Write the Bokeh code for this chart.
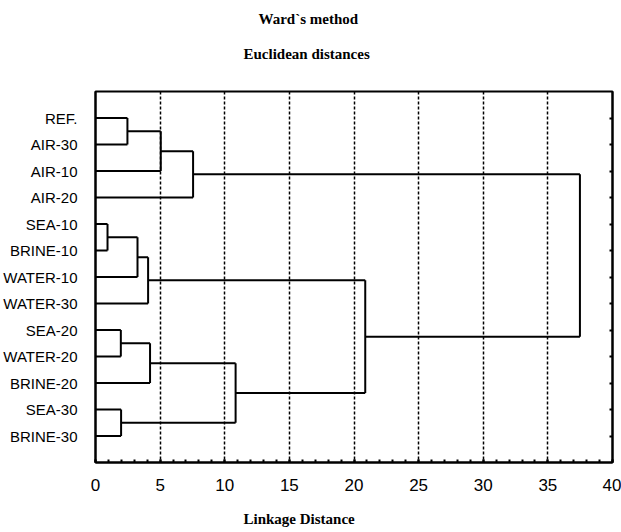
from bokeh.plotting import figure
from bokeh.models import ColumnDataSource, LinearAxis, FixedTicker, Title, Range1d
from bokeh.embed import file_html
from bokeh.resources import INLINE

leaves = ["REF.", "AIR-30", "AIR-10", "AIR-20", "SEA-10", "BRINE-10", "WATER-10",
          "WATER-30", "SEA-20", "WATER-20", "BRINE-20", "SEA-30", "BRINE-30"]
# merges: node indices (leaves 0..12, merged clusters 13..)
merge_a = [0, 13, 14, 4, 16, 17, 8, 19, 11, 20, 18, 15]
merge_b = [1, 2, 3, 5, 6, 7, 9, 10, 12, 21, 22, 23]
merge_h = [2.47, 5.05, 7.55, 0.93, 3.25, 4.07, 1.96, 4.22, 1.98, 10.84, 20.87, 37.48]
x_ticks = [0, 5, 10, 15, 20, 25, 30, 35, 40]

n = len(leaves)
pos = [float(i + 1) for i in range(n)]
hgt = [0.0] * n
x0, y0, x1, y1 = [], [], [], []
for a, b, h in zip(merge_a, merge_b, merge_h):
    ya, yb = pos[a], pos[b]
    x0 += [hgt[a], hgt[b], h]
    y0 += [ya, yb, ya]
    x1 += [h, h, h]
    y1 += [ya, yb, yb]
    pos.append((ya + yb) / 2.0)
    hgt.append(h)

src = ColumnDataSource(dict(x0=x0, y0=y0, x1=x1, y1=y1))

p = figure(width=621, height=532, x_range=Range1d(0, 40), y_range=Range1d(14, 0),
           output_backend="svg", toolbar_location=None, title="Ward`s method",
           min_border_left=94, min_border_right=9, min_border_top=91, min_border_bottom=70)
p.background_fill_color = "white"
p.border_fill_color = "white"
p.outline_line_color = "black"
p.outline_line_width = 2
p.outline_line_alpha = 1.0

serif = "Liberation Serif"
sans = "Liberation Sans"

# x axis (configure before adding spacer axes)
xa = p.xaxis[0]
xa.ticker = FixedTicker(ticks=x_ticks, minor_ticks=list(range(0, 41)))
xa.axis_line_color = "black"
xa.axis_line_width = 2
xa.major_tick_in = 3
xa.major_tick_out = 0
xa.minor_tick_in = 3
xa.minor_tick_out = 0
xa.major_tick_line_width = 2
xa.minor_tick_line_width = 2
xa.major_label_standoff = 16
xa.major_label_text_font = sans
xa.major_label_text_font_size = "17px"
xa.major_label_text_color = "black"

# y axis (leaf labels)
ya_ = p.yaxis[0]
ya_.ticker = FixedTicker(ticks=[i + 1 for i in range(n)])
ya_.major_label_overrides = {i + 1: name for i, name in enumerate(leaves)}
ya_.major_tick_line_color = None
ya_.minor_tick_line_color = None
ya_.axis_line_color = "black"
ya_.axis_line_width = 2
ya_.major_label_standoff = 12
ya_.major_label_text_font = sans
ya_.major_label_text_font_size = "15px"
ya_.major_label_text_color = "black"

p.xgrid.ticker = FixedTicker(ticks=x_ticks)
p.xgrid.grid_line_color = "black"
p.xgrid.grid_line_dash = "3 2"
p.xgrid.grid_line_width = 1.5
p.ygrid.grid_line_color = None


def spacer(size):
    # invisible axis used only to reserve vertical space
    ax = LinearAxis(ticker=FixedTicker(ticks=[20]))
    ax.major_label_overrides = {20: ""}
    ax.axis_line_color = None
    ax.major_tick_line_color = None
    ax.minor_tick_line_color = None
    ax.major_tick_in = 0
    ax.major_tick_out = size
    ax.minor_tick_in = 0
    ax.minor_tick_out = 0
    ax.major_label_standoff = 0
    return ax


# outermost title (figure title)
p.title.text_font = serif
p.title.text_font_style = "bold"
p.title.text_font_size = "15px"
p.title.text_color = "black"
p.title.align = "left"
p.title.offset = 163
p.title.standoff = 10

# above: nearest the frame first
p.add_layout(spacer(17), "above")
p.add_layout(Title(text="Euclidean distances", text_font=serif, text_font_style="bold",
                   text_color="black", text_font_size="15px", align="left", offset=148,
                   standoff=25), "above")

# below: x axis, spacer, axis title
p.add_layout(spacer(15), "below")
p.add_layout(Title(text="Linkage Distance", text_font=serif, text_font_style="bold",
                   text_color="black", text_font_size="15px", align="left", offset=148,
                   standoff=0), "below")

p.segment(x0="x0", y0="y0", x1="x1", y1="y1", source=src, line_color="black", line_width=2)

# right axis with inward ticks
ra = LinearAxis(ticker=FixedTicker(ticks=[i + 1 for i in range(n)]))
ra.major_tick_in = 3
ra.major_tick_out = 0
ra.major_tick_line_width = 2
ra.minor_tick_line_color = None
ra.major_label_overrides = {i + 1: "" for i in range(n)}
ra.major_label_standoff = 0
ra.axis_line_color = "black"
ra.axis_line_width = 2
p.add_layout(ra, "right")

open("out.html", "w").write(file_html(p, INLINE))
